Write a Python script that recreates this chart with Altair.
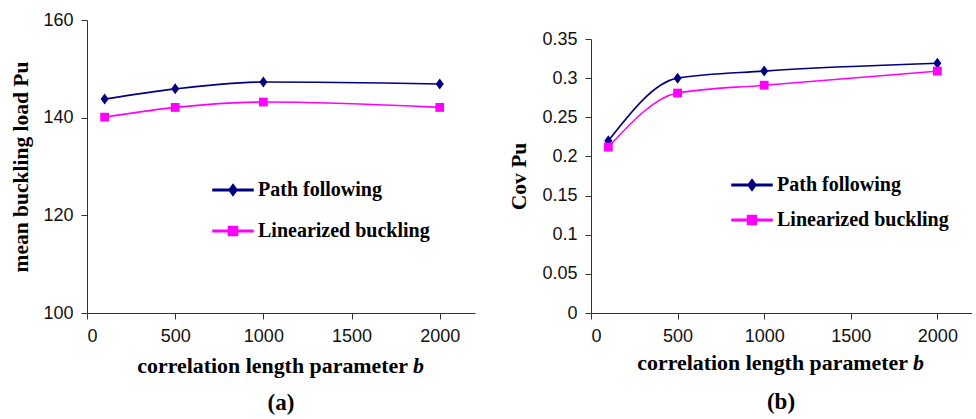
import altair as alt
import pandas as pd

# ---------------- data ----------------
b_values = [100, 500, 1000, 2000]
series_names = ["Path following", "Linearized buckling"]
mean_path = [143.8, 145.9, 147.3, 146.9]
mean_lin = [140.1, 142.1, 143.2, 142.1]
cov_path = [0.220, 0.300, 0.309, 0.319]
cov_lin = [0.212, 0.281, 0.291, 0.309]
x_ticks = [0, 500, 1000, 1500, 2000]
y_ticks_a = [100, 120, 140, 160]
y_ticks_b = [0, 0.05, 0.1, 0.15, 0.2, 0.25, 0.3, 0.35]
x_title_main = "correlation length parameter"
x_title_var = "b"
y_title_a = "mean buckling load Pu"
y_title_b = "Cov Pu"
captions = ["(a)", "(b)"]
colors = ["#000080", "#FF00FF"]

def frame(vals1, vals2):
    rows = []
    for name, vals in zip(series_names, [vals1, vals2]):
        for b, v in zip(b_values, vals):
            rows.append({"b": b, "value": v, "series": name})
    return pd.DataFrame(rows)

df_a = frame(mean_path, mean_lin)
df_b = frame(cov_path, cov_lin)

SERIF = "Liberation Serif"
SANS = "Liberation Sans"

diamond = "M0,-1L0.73,0L0,1L-0.73,0Z"
square = "M-0.8,-0.8L0.8,-0.8L0.8,0.8L-0.8,0.8Z"
marker_shapes = [diamond, square]
# legend symbols: unit = 5px (symbolSize 100); 40px line with marker in middle
leg_line = "M-4,0L4,0M-4,-0.15L4,-0.15L4,0.15L-4,0.15Z"
leg_symbols = [leg_line + "M0,-1.1L0.8,0L0,1.1L-0.8,0Z",
               leg_line + "M-0.9,-0.9L0.9,-0.9L0.9,0.9L-0.9,0.9Z"]

stroke_scale = alt.Scale(domain=series_names, range=colors)


def make_legend(value, sym, color, lx, ly):
    return alt.Legend(
        orient="none", legendX=lx, legendY=ly, title=None, values=[value],
        symbolType=sym, symbolSize=100,
        symbolFillColor=color, symbolStrokeColor=color, symbolStrokeWidth=1.5,
        symbolOpacity=1,
        labelOffset=15, padding=0, symbolOffset=15,
        labelFont=SERIF, labelFontWeight="bold", labelFontSize=20,
        labelColor="black", labelLimit=400,
    )


def panel(df, width, height, y_scale, y_ticks, y_fmt, y_title, y_title_pad,
          leg_x, leg_y, leg_step, tx_main, tx_var, ty, cap, cap_x, cap_y):
    x_enc = alt.X("b:Q", scale=alt.Scale(domain=[0, 2200], nice=False),
                  axis=alt.Axis(values=x_ticks, title=None, format="d"))
    y_enc = alt.Y("value:Q", scale=y_scale,
                  axis=alt.Axis(values=y_ticks, format=y_fmt, title=y_title,
                                titlePadding=y_title_pad))
    base = alt.Chart(df)
    lines = base.mark_line(interpolate="monotone", strokeWidth=1.6).encode(
        x=x_enc, y=y_enc,
        stroke=alt.Stroke("series:N", scale=stroke_scale, legend=None),
    )
    point_layers = []
    for i, name in enumerate(series_names):
        point_layers.append(
            base.transform_filter(alt.datum.series == name)
            .mark_point(filled=True, opacity=1, size=121, shape=marker_shapes[i])
            .encode(
                x=x_enc, y=y_enc,
                fill=alt.Fill("series:N",
                              scale=alt.Scale(domain=[name], range=[colors[i]]),
                              legend=make_legend(name, leg_symbols[i], colors[i],
                                                 leg_x, leg_y + i * leg_step)),
            )
        )
    t_main = alt.Chart(pd.DataFrame({"t": [x_title_main]})).mark_text(
        font=SERIF, fontWeight="bold", fontSize=21.9, align="right",
        baseline="alphabetic", color="black"
    ).encode(text="t:N", x=alt.value(tx_main), y=alt.value(ty))
    t_var = alt.Chart(pd.DataFrame({"t": [x_title_var]})).mark_text(
        font=SERIF, fontWeight="bold", fontStyle="italic", fontSize=21.9,
        align="left", baseline="alphabetic", color="black"
    ).encode(text="t:N", x=alt.value(tx_var), y=alt.value(ty))
    t_cap = alt.Chart(pd.DataFrame({"t": [cap]})).mark_text(
        font=SERIF, fontWeight="bold", fontSize=23, align="center",
        baseline="alphabetic", color="black"
    ).encode(text="t:N", x=alt.value(cap_x), y=alt.value(cap_y))
    return alt.layer(lines, *point_layers, t_main, t_var, t_cap).resolve_scale(
        fill="independent"
    ).resolve_legend(fill="independent").properties(width=width, height=height)


chart_a = panel(df_a, 388, 293,
                alt.Scale(domain=[100, 160], nice=False, zero=False),
                y_ticks_a, "d", y_title_a, 10,
                121, 160, 41, 321, 326, 353, captions[0], 194, 390)
chart_b = panel(df_b, 381, 293,
                alt.Scale(domain=[0, 0.35], nice=False, range=[293, 19]),
                y_ticks_b, "~g", y_title_b, 11,
                136, 155, 35, 317, 322, 350, captions[1], 190, 389)

chart = alt.hconcat(chart_a, chart_b, spacing=33).resolve_scale(
    stroke="independent", fill="independent"
).resolve_legend(
    fill="independent"
).properties(
    padding={"left": 10, "top": 11, "right": 0, "bottom": 0}
).configure_view(stroke=None).configure_axis(
    grid=False, labelFont=SANS, labelFontSize=18, labelColor="#111",
    domainColor="#333", tickColor="#333", tickSize=6, labelPadding=8,
    titleFont=SERIF, titleFontWeight="bold", titleFontSize=21.5,
    titleColor="black",
).configure_axisX(labelPadding=8)

chart.save("out.html", embed_options={"renderer": "svg", "actions": False})
